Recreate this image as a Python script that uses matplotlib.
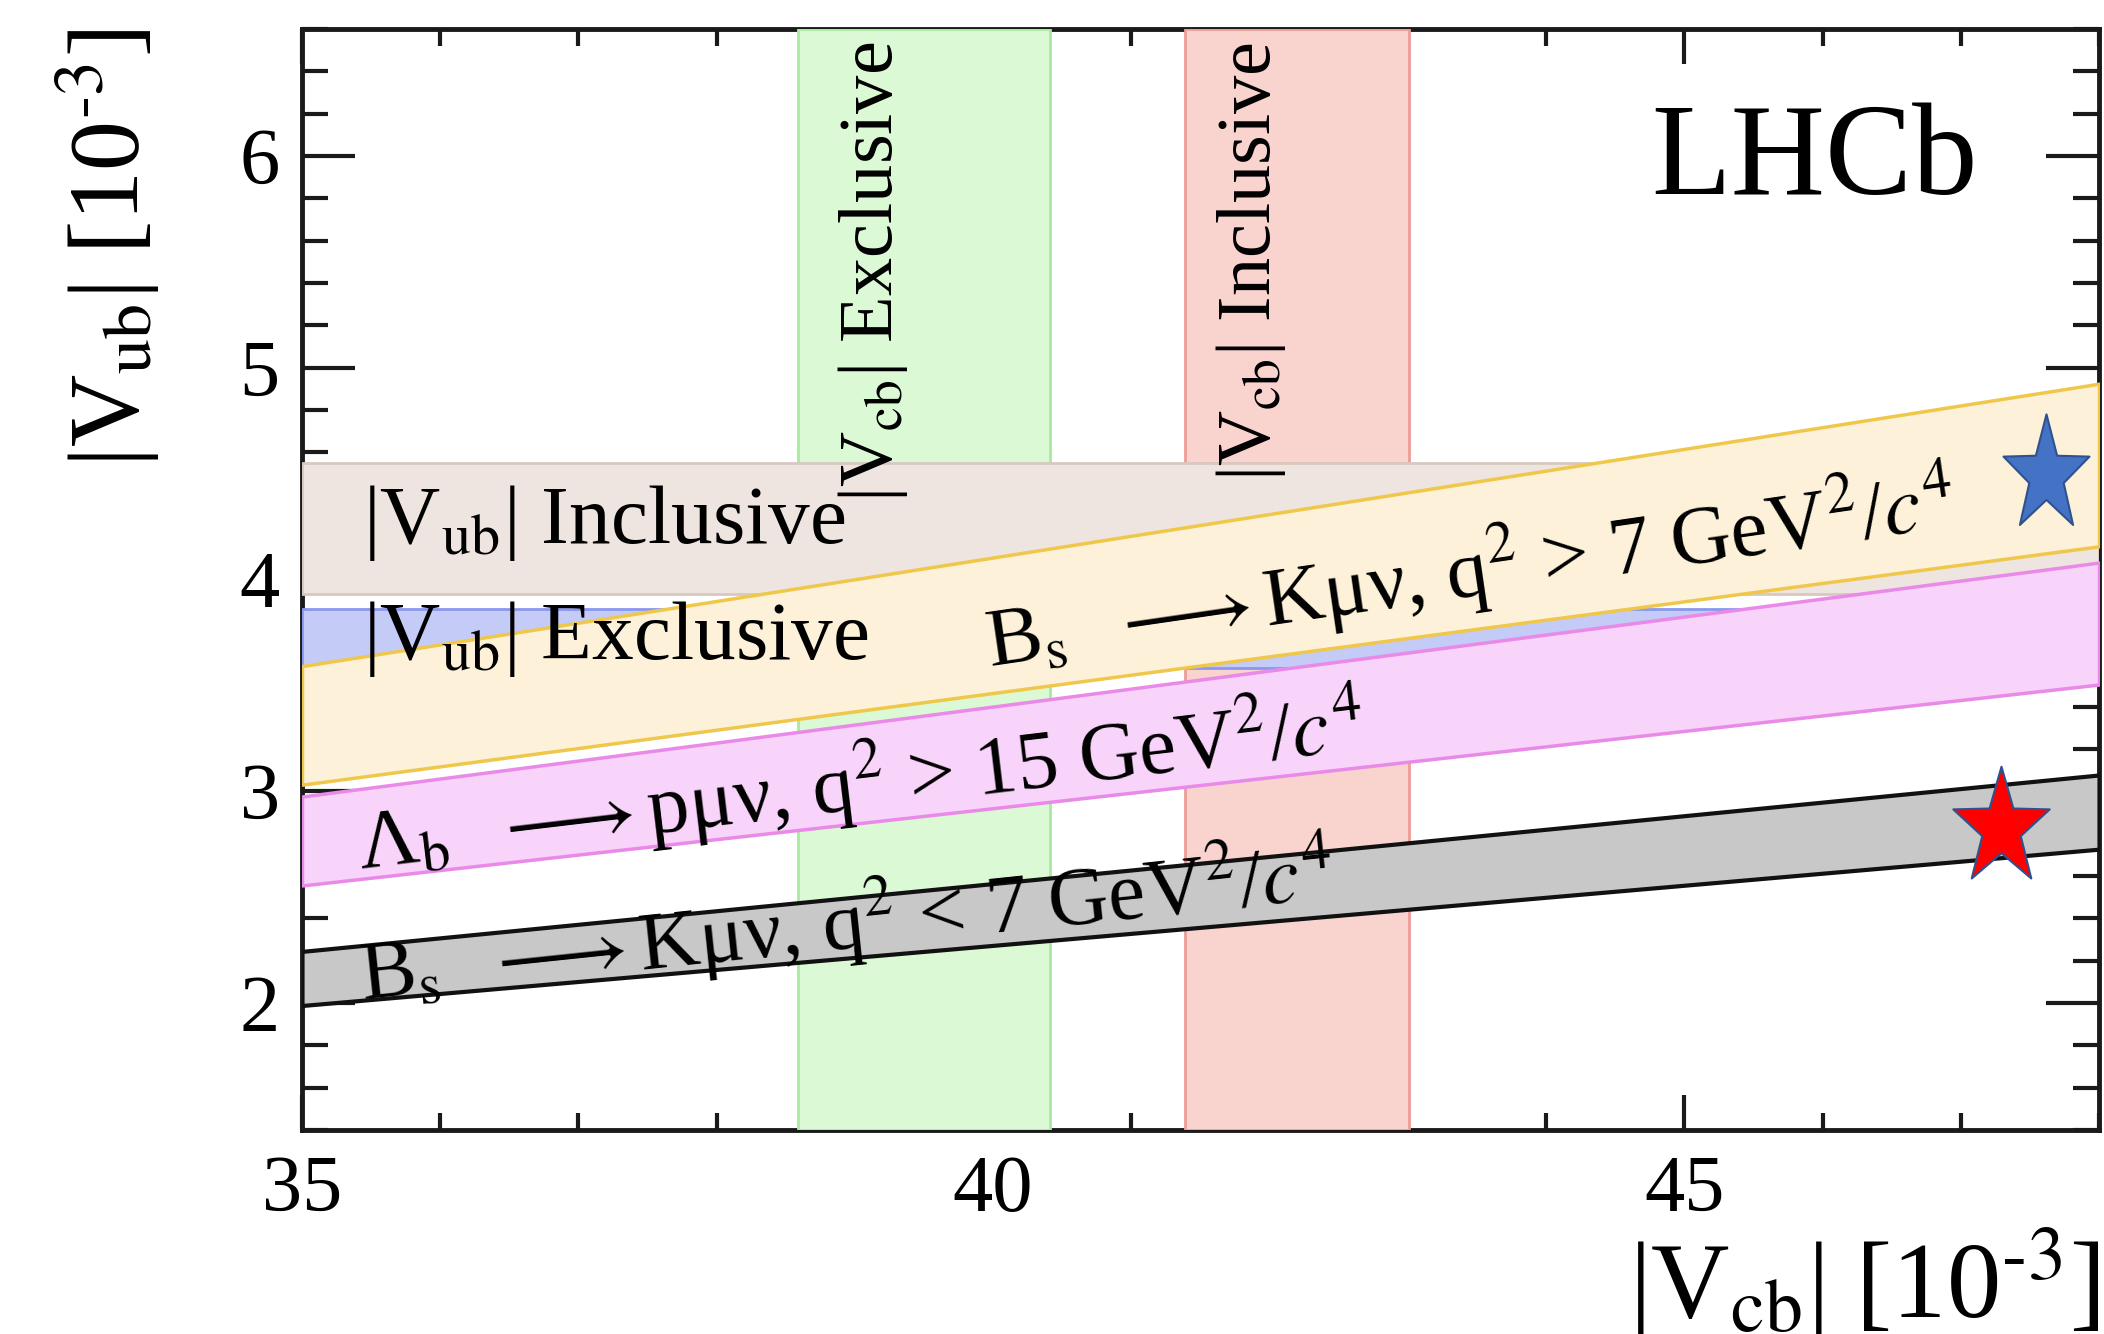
import numpy as np
import matplotlib
matplotlib.use("Agg")
import matplotlib.pyplot as plt
from matplotlib.path import Path
from matplotlib.transforms import Affine2D
from matplotlib.ticker import MultipleLocator

plt.rcParams['font.family'] = ['Liberation Serif', 'STIXGeneral', 'DejaVu Serif']
plt.rcParams['mathtext.fontset'] = 'stix'

# axis ranges, both in units of 1e-3
vcb_range = [35, 48]
vub_range = [1.4, 6.6]

# |Vcb| bands (vertical)
vcb_excl = [38.59, 40.41]
vcb_incl = [41.39, 43.01]
# |Vub| bands (horizontal)
vub_incl = [3.93, 4.55]
vub_excl = [3.58, 3.86]
# |Vub|/|Vcb| ratio bands
ratio_bs_high = [0.0866, 0.1026]
ratio_lb = [0.0730, 0.0850]
ratio_bs_low = [0.0568, 0.0641]

# pasted stars
star_blue = [47.62, 4.495]
star_red = [47.29, 2.828]

fig = plt.figure(figsize=(21.04, 13.34), dpi=100)
ax = fig.add_axes([302/2104, 204/1334, 1797/2104, 1101/1334])
ax.set_xlim(vcb_range)
ax.set_ylim(vub_range)

ax.axvspan(*vcb_excl, facecolor='#dcf9d5', edgecolor='#a9eaa0', lw=2, zorder=3)
ax.axvspan(*vcb_incl, facecolor='#f9d3ce', edgecolor='#ee9d96', lw=2, zorder=3)
ax.axhspan(*vub_incl, facecolor='#eee5e0', edgecolor='#d8c8c0', lw=2, zorder=4)
ax.axhspan(*vub_excl, facecolor='#c4cbf7', edgecolor='#8a97ee', lw=2, zorder=5)

x = np.array(vcb_range, dtype=float)
ax.fill_between(x, ratio_bs_high[0]*x, ratio_bs_high[1]*x,
                facecolor='#fdf2d9', edgecolor='#efc84b', lw=2.5, zorder=6)
ax.fill_between(x, ratio_lb[0]*x, ratio_lb[1]*x,
                facecolor='#f8d4fa', edgecolor='#e98ae8', lw=2.5, zorder=7)
ax.fill_between(x, ratio_bs_low[0]*x, ratio_bs_low[1]*x,
                facecolor='#c8c8c8', edgecolor='#111111', lw=3, zorder=8)

fs_h = 60
fs_v = 55
arrow = r'$\longrightarrow$'
ax.text(44.76, 5.82, 'LHCb', fontsize=94, zorder=10)
ax.text(39.27, 4.368, r'|V$_\mathrm{cb}$| Exclusive', fontsize=fs_v,
        rotation=90, rotation_mode='anchor', ha='left', va='baseline', zorder=10)
ax.text(42.0, 4.463, r'|V$_\mathrm{cb}$| Inclusive', fontsize=fs_v,
        rotation=90, rotation_mode='anchor', ha='left', va='baseline', zorder=10)
ax.text(35.44, 4.171, r'|V$_\mathrm{ub}$| Inclusive', fontsize=fs_h,
        ha='left', va='baseline', zorder=10)
ax.text(35.44, 3.626, r'|V$_\mathrm{ub}$| Exclusive', fontsize=fs_h,
        ha='left', va='baseline', zorder=10)
ax.text(39.975, 3.586, 'B$_\\mathrm{s}$  ' + arrow + 'K\u03bc\u03bd, q$^2$ > 7 GeV$^2$/$c^4$',
        fontsize=fs_h, rotation=8.3, rotation_mode='anchor', ha='left', va='baseline', zorder=10)
ax.text(35.42, 2.630, '\u039b$_\\mathrm{b}$  ' + arrow + 'p\u03bc\u03bd, q$^2$ > 15 GeV$^2$/$c^4$',
        fontsize=fs_h, rotation=6.8, rotation_mode='anchor', ha='left', va='baseline', zorder=10)
ax.text(35.44, 2.014, 'B$_\\mathrm{s}$  ' + arrow + 'K\u03bc\u03bd, q$^2$ < 7 GeV$^2$/$c^4$',
        fontsize=fs_h, rotation=6.0, rotation_mode='anchor', ha='left', va='baseline', zorder=10)

star = Path.unit_regular_star(5, 0.4)
ax.plot(*star_blue, marker=star.transformed(Affine2D().scale(0.74, 1.0)), ms=88,
        mfc='#4472c4', mec='#2f528f', mew=1.5, ls='none', zorder=11, clip_on=False)
ax.plot(*star_red, marker=star.transformed(Affine2D().scale(0.82, 1.0)), ms=89,
        mfc='#ff0000', mec='#2f528f', mew=1.5, ls='none', zorder=11, clip_on=False)

ax.xaxis.set_major_locator(MultipleLocator(5))
ax.xaxis.set_minor_locator(MultipleLocator(1))
ax.yaxis.set_major_locator(MultipleLocator(1))
ax.yaxis.set_minor_locator(MultipleLocator(0.2))
ax.tick_params(axis='both', which='both', direction='in', top=True, right=True,
               width=3, color='#1a1a1a', labelsize=58)
ax.tick_params(axis='x', which='major', length=25, pad=18)
ax.tick_params(axis='x', which='minor', length=12)
ax.tick_params(axis='y', which='major', length=38, pad=16)
ax.tick_params(axis='y', which='minor', length=19)
for s in ax.spines.values():
    s.set_linewidth(3.5)
    s.set_color('#1a1a1a')

fig.text(108/2104, 1 - 28/1334, r'|V$_\mathrm{ub}$| [10$^{\text{-}3}$]', fontsize=72,
         rotation=90, ha='center', va='top')
fig.text(2100/2104, 1 - 1318/1334, r'|V$_\mathrm{cb}$| [10$^{\text{-}3}$]', fontsize=78,
         ha='right', va='baseline')

fig.savefig('out.png', dpi=100)
